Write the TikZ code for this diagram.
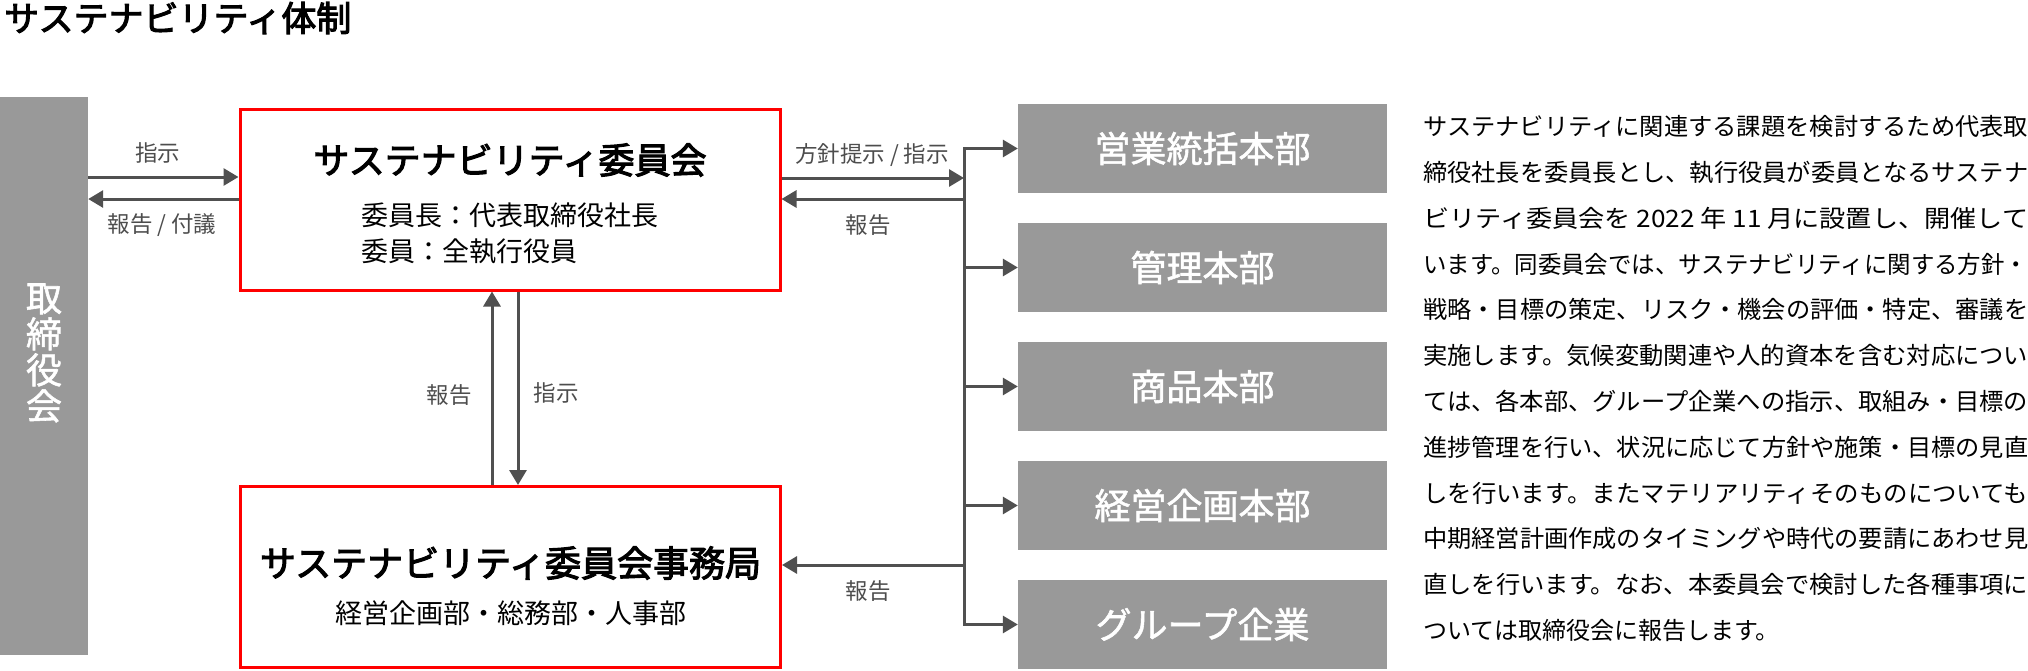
\documentclass[tikz,border=0pt]{standalone}
\usepackage{fontspec}
\setmainfont{Noto Sans CJK JP}
\newfontfamily\medfont{Noto Sans CJK JP}[FakeBold=3]
\newfontfamily\semifont{Noto Sans CJK JP}[FakeBold=1.5]
\usepackage{graphicx}
\usetikzlibrary{arrows.meta,positioning}
\definecolor{boxgray}{HTML}{999999}
\definecolor{arrgray}{HTML}{505050}
\definecolor{lblgray}{HTML}{4D4D4D}
\definecolor{boxred}{HTML}{FF0000}
\newcommand{\fs}[2][]{\fontsize{#2}{#2}\selectfont}
\tikzset{>={Triangle[length=15pt,width=17pt]}}
\tikzstyle{redbox}=[rectangle,draw=boxred,line width=3pt,minimum width=540pt,minimum height=181pt,inner sep=0pt]
\tikzstyle{graybox}=[rectangle,fill=boxgray,text=white,minimum width=369pt,minimum height=89pt,inner sep=0pt,font=\semifont\fs{36}]
\tikzstyle{lbl}=[text=lblgray,font=\fs{22.5},inner sep=0pt]
\tikzstyle{flow}=[arrgray,line width=3pt]

\begin{document}
\begin{tikzpicture}[x=1pt,y=-1pt]
	\useasboundingbox (0,0) rectangle (2028,670);
	\node[anchor=west,inner sep=0pt,font=\medfont\fs{35}] (title) at (4,18) {サステナビリティ体制};

	\node[rectangle,fill=boxgray,minimum width=88pt,minimum height=558pt,inner sep=0pt] (board) at (44,376) {};
	\node[text=white,align=center,inner sep=0pt,font=\semifont\fontsize{36}{36}\selectfont] (boardlbl) at ([yshift=23pt]board.center) {取\\締\\役\\会};

	\node[redbox] (cmte) at (510,199.5) {};
	\node[font=\medfont\fs{36},inner sep=0pt] (cmtetitle) at (510,160) {サステナビリティ委員会};
	\node[align=left,font=\fontsize{27}{36}\selectfont,inner sep=0pt] (cmtesub) at (510,233) {委員長：代表取締役社長\\委員：全執行役員};

	\node[redbox] (sec) at (510.5,577) {};
	\node[font=\medfont\fs{36},inner sep=0pt] (sectitle) at (510.5,563) {サステナビリティ委員会事務局};
	\node[font=\fs{27},inner sep=0pt] (secsub) at (510.5,613) {経営企画部・総務部・人事部};

	\foreach \name/\txt [count=\i] in {sales/営業統括本部,admin/管理本部,merch/商品本部,plan/経営企画本部,group/グループ企業}
		\node[graybox] (\name) at (1202.5,{148.5+119*(\i-1)}) {\txt};

	\coordinate (hub) at (964,178);

	\draw[flow,->] (board.east |- 0,177) -- (cmte.west |- 0,177);
	\draw[flow,->] (cmte.west |- 0,199) -- (board.east |- 0,199);
	\node[lbl] (l1) at (157.5,153) {指示};
	\node[lbl] (l2) at (162,225) {報告 / 付議};

	\draw[flow,->] (sec.north -| 492,0) -- (cmte.south -| 492,0);
	\draw[flow,->] (cmte.south -| 518,0) -- (sec.north -| 518,0);
	\node[lbl] (l3) at (449,395) {報告};
	\node[lbl] (l4) at (556,393) {指示};

	\draw[flow,->] (cmte.east |- hub) -- (hub);
	\draw[flow,->] (hub |- 0,199) -- (cmte.east |- 0,199);
	\draw[flow,->] (hub |- 0,565) -- (sec.east |- 0,565);
	\node[lbl] (l5) at (872,155) {方針提示 / 指示};
	\node[lbl] (l6) at (868,225) {報告};
	\node[lbl] (l7) at (868,591) {報告};

	\draw[flow,<->] (sales.west) -- (hub |- sales) -- (hub |- group) -- (group.west);
	\foreach \name in {admin,merch,plan}
		\draw[flow,->] (hub |- \name) -- (\name.west);

	\foreach \t [count=\i] in {サステナビリティに関連する課題を検討するため代表取,締役社長を委員長とし、執行役員が委員となるサステナ,ビリティ委員会を 2022 年 11 月に設置し、開催して,います。同委員会では、サステナビリティに関する方針・,戦略・目標の策定、リスク・機会の評価・特定、審議を,実施します。気候変動関連や人的資本を含む対応につい,ては、各本部、グループ企業への指示、取組み・目標の,進捗管理を行い、状況に応じて方針や施策・目標の見直,しを行います。またマテリアリティそのものについても,中期経営計画作成のタイミングや時代の要請にあわせ見,直しを行います。なお、本委員会で検討した各種事項に}
		\node[anchor=west,inner sep=0pt,font=\fs{24}] (para\i) at (1423,{126.7+45.8*(\i-1)}) {\resizebox{605pt}{\height}{\t}};
	\node[anchor=west,inner sep=0pt,font=\fs{24}] (para12) at (1423,630.5) {ついては取締役会に報告します。};
\end{tikzpicture}
\end{document}
